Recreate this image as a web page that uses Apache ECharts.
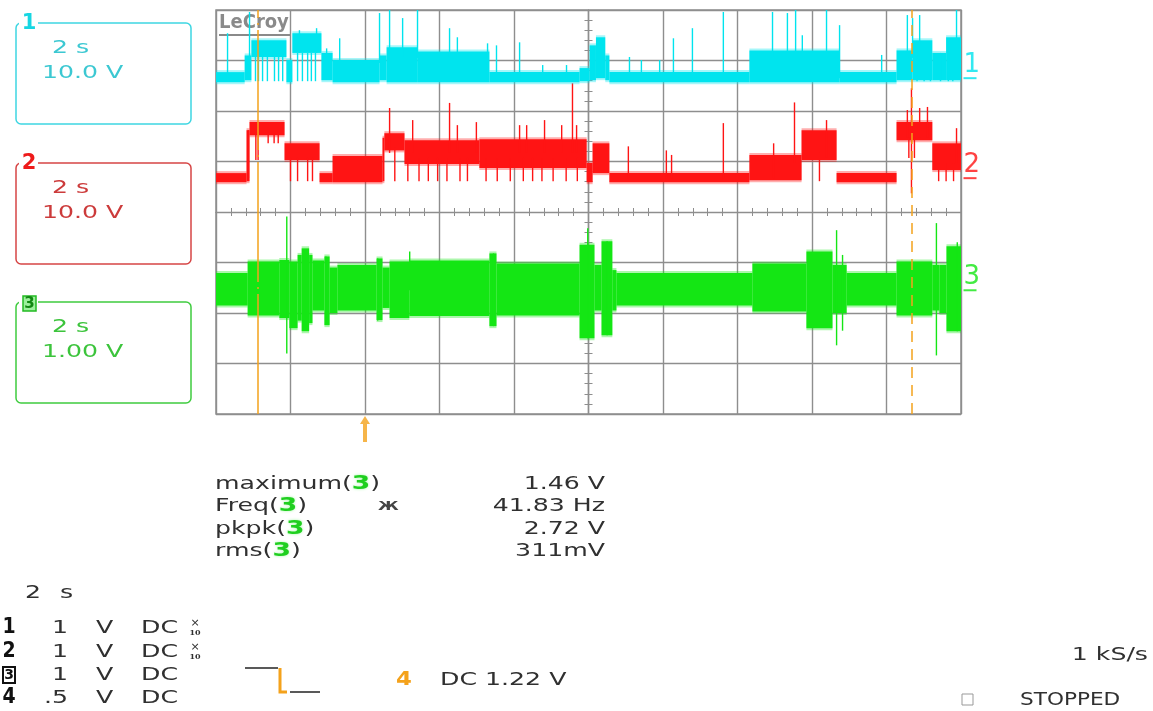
<!DOCTYPE html>
<html>
<head>
<meta charset="utf-8">
<script src="https://cdn.jsdelivr.net/npm/echarts@6/dist/echarts.min.js"></script>
<style>
html, body { margin: 0; background: #fff; }
#container { width: 1153px; height: 711px; }
</style>
</head>
<body>
<div id="container"></div>
<script>
// time base 2 s/div, 10 div wide; 8 div high
var timeMin = -10, timeMax = 10, timeDiv = 2;
var divMin = -4, divMax = 4;

var chanNames = ['1', '2', '3'];
var chanColors = ['#00e4ee', '#ff1414', '#14e614'];
var chanVoltsPerDiv = [10, 10, 1];
var chanGroundDiv = [2.65, 0.67, -1.55];

// bands: [t0 s, t1 s, vLow V, vHigh V]
var ch1Bands = [
    [-10.0, -9.23, -0.8, 1.2], [-9.23, -9.05, -0.4, 4.5], [-9.05, -8.11, 4.2, 7.5],
    [-8.11, -7.95, -0.8, 3.6], [-7.95, -7.17, 5.0, 8.9], [-7.17, -6.87, -0.4, 5.0],
    [-6.87, -5.61, -0.8, 3.6], [-5.61, -5.42, -0.4, 4.5], [-5.42, -4.60, -0.8, 6.1],
    [-4.60, -2.66, -0.8, 5.3], [-2.66, -0.24, -0.8, 1.2], [-0.24, 0.03, -0.6, 2.0],
    [0.03, 0.20, -0.4, 6.5], [0.20, 0.45, 0.0, 8.1], [0.45, 0.56, -0.4, 4.5],
    [0.56, 4.32, -0.8, 1.2], [4.32, 6.74, -0.8, 5.5], [6.74, 8.27, -0.8, 1.2],
    [8.27, 8.70, -0.4, 5.5], [8.70, 9.23, -0.4, 7.5], [9.23, 9.60, -0.4, 5.0],
    [9.60, 10.0, -0.4, 8.1]
];
// spikes and dips: [t s, vLow V, vHigh V]
var ch1Spikes = [
    [-9.69, 0, 8.9], [-9.10, 4, 13.1], [-7.76, 5, 9.5], [-7.30, 5, 9.9], [-7.03, 3, 5.9],
    [-6.68, 2, 7.9], [-5.61, 3, 12.9], [-5.34, 4, 13.5], [-4.99, 4, 11.9], [-4.59, 4, 13.5],
    [-3.73, 4, 9.9], [-3.52, 4, 8.1], [-2.71, 4, 6.9], [-2.47, 0, 6.5], [-1.85, 0, 7.1],
    [-1.23, 0, 2.6], [-0.59, 0, 2.6], [1.10, 0, 4.2], [1.42, 0, 3.6], [1.91, 0, 3.6],
    [2.28, 0, 7.9], [2.79, 0, 9.9], [3.62, 0, 13.1], [4.94, 4, 13.1], [5.34, 4, 12.9],
    [5.56, 4, 13.5], [5.74, 4, 8.5], [6.39, 4, 13.5], [6.74, 0, 10.5], [7.87, 0, 4.6],
    [8.56, 4, 12.5], [8.70, 4, 11.9], [8.89, 4, 12.5], [9.88, 4, 13.5],
    [-8.94, -0.6, 4.5], [-8.86, -0.6, 4.5], [-8.75, -0.6, 4.5], [-8.62, -0.6, 4.5],
    [-8.43, -0.6, 4.5], [-8.32, -0.6, 4.5], [-8.21, -0.6, 4.5], [-7.81, -0.6, 5.0],
    [-7.68, -0.6, 5.0], [-7.54, -0.6, 5.0], [-7.44, -0.6, 5.0], [-7.33, -0.6, 5.0],
    [8.82, -0.6, 5.0], [9.01, -0.6, 5.0], [9.18, -0.6, 5.0], [9.45, -0.6, 5.0],
    [9.66, -0.6, 5.0], [9.78, -0.6, 5.0]
];

var ch2Bands = [
    [-10.0, -9.18, -0.8, 1.0], [-9.18, -9.10, -0.6, 9.5], [-9.10, -8.16, 8.5, 11.1],
    [-8.16, -7.22, 3.6, 6.9], [-7.22, -6.87, -0.8, 1.0], [-6.87, -5.53, -0.8, 4.4],
    [-5.53, -5.48, -0.6, 8.0], [-5.48, -4.94, 5.5, 8.9], [-4.94, -2.93, 2.8, 7.5],
    [-2.93, -0.05, 2.0, 7.7], [-0.05, 0.11, -0.8, 3.0], [0.11, 0.56, 1.0, 6.9],
    [0.56, 4.32, -0.8, 1.0], [4.32, 5.72, -0.4, 4.6], [5.72, 6.66, 3.6, 9.5],
    [6.66, 8.27, -0.8, 1.0], [8.27, 9.23, 7.5, 11.1], [9.23, 10.0, 1.6, 6.9]
];
var ch2Spikes = [
    [-9.13, 0, 9.5], [-5.34, 5, 13.9], [-4.72, 5, 11.5], [-3.73, 5, 14.9], [-3.52, 5, 10.5],
    [-3.01, 5, 11.1], [-1.85, 5, 10.5], [-1.66, 5, 10.5], [-1.18, 5, 11.5], [-0.72, 5, 10.5],
    [-0.43, 5, 18.8], [-0.32, 5, 10.5], [1.07, 0, 6.3], [2.09, 0, 5.5], [2.23, 0, 4.6],
    [3.62, 0, 10.9], [4.97, 0, 6.9], [5.53, 3, 15.0], [6.39, 4, 11.5], [8.56, 8, 13.5],
    [8.67, -3, 17.8], [8.89, 8, 13.9], [9.10, 8, 14.1], [9.88, 3, 9.9],
    [-8.93, 3.6, 9.0], [-8.87, 3.6, 9.0], [-8.60, 6.9, 9.0], [-8.44, 6.9, 9.0], [-8.33, 6.9, 9.0],
    [-8.00, -0.6, 4.0], [-7.81, -0.6, 4.0], [-7.54, -0.6, 4.0], [-7.41, -0.6, 4.0],
    [-5.20, -0.6, 6.0], [-4.85, -0.6, 4.0], [-4.55, -0.6, 4.0], [-4.30, -0.6, 4.0],
    [-4.05, -0.6, 4.0], [-3.80, -0.6, 4.0], [-3.45, -0.6, 4.0], [-3.25, -0.6, 4.0],
    [-2.75, -0.6, 4.0], [-2.45, -0.6, 4.0], [-2.10, -0.6, 4.0], [-1.75, -0.6, 4.0],
    [-1.50, -0.6, 4.0], [-1.25, -0.6, 4.0], [-0.95, -0.6, 4.0], [-0.60, -0.6, 4.0],
    [-0.30, -0.6, 4.0], [6.20, -0.6, 5.0], [8.60, 4.0, 8.0], [8.75, 4.0, 8.0],
    [9.40, -0.6, 3.0], [9.60, -0.6, 3.0], [9.80, -0.6, 3.0]
];

var ch3Bands = [
    [-10.0, -9.15, -0.30, 0.34], [-9.15, -8.30, -0.50, 0.57], [-8.30, -8.03, -0.55, 0.60],
    [-8.03, -7.81, -0.75, 0.57], [-7.81, -7.70, -0.60, 0.70], [-7.70, -7.50, -0.81, 0.83],
    [-7.50, -7.41, -0.65, 0.70], [-7.41, -7.09, -0.40, 0.59], [-7.09, -6.95, -0.69, 0.67],
    [-6.95, -6.74, -0.45, 0.45], [-6.74, -5.69, -0.40, 0.50], [-5.69, -5.53, -0.59, 0.63],
    [-5.53, -5.34, -0.35, 0.45], [-5.34, -4.81, -0.55, 0.57], [-4.81, -2.66, -0.51, 0.59],
    [-2.66, -2.47, -0.71, 0.73], [-2.47, -0.24, -0.50, 0.53], [-0.24, 0.16, -0.95, 0.90],
    [0.16, 0.35, -0.40, 0.50], [0.35, 0.64, -0.89, 0.97], [0.64, 0.75, -0.40, 0.40],
    [0.75, 4.40, -0.30, 0.34], [4.40, 5.85, -0.42, 0.53], [5.85, 6.55, -0.75, 0.77],
    [6.55, 6.93, -0.45, 0.50], [6.93, 8.27, -0.30, 0.34], [8.27, 9.23, -0.50, 0.57],
    [9.23, 9.42, -0.40, 0.50], [9.42, 9.61, -0.45, 0.50], [9.61, 10.0, -0.81, 0.87]
];
var ch3Spikes = [
    [-8.10, -1.25, 1.46], [-7.05, -0.69, 0.67], [-5.66, -0.60, 0.63], [-4.80, 0, 0.77],
    [-2.55, -0.71, 0.73], [-0.02, -0.95, 1.23], [0.50, -0.89, 0.97], [6.66, -1.09, 1.19],
    [6.82, -0.80, 0.70], [9.34, -1.29, 1.33], [9.90, -0.81, 0.95]
];

var cursorTimes = [-8.89, 8.67];
var triggerTime = -6.0;

var measNames = ['maximum', 'Freq', 'pkpk', 'rms'];
var measValues = ['1.46 V', '41.83 Hz', '2.72 V', '311mV'];
var boxTimes = ['2 s', '2 s', '2 s'];
var boxVolts = ['10.0 V', '10.0 V', '1.00 V'];
var timebaseText = ['2', 's'];
var rowChans = ['1', '2', '3', '4'];
var rowScales = ['1', '1', '1', '.5'];
var rowUnits = ['V', 'V', 'V', 'V'];
var rowCouplings = ['DC', 'DC', 'DC', 'DC'];
var rowProbes = ['10', '10', '', ''];
var trigSource = '4';
var trigText = 'DC 1.22 V';
var sampleRate = '1 kS/s';
var acqState = 'STOPPED';

var ORANGE = '#f4a21c';
var GRID = '#8e8e8e';
var TEXT = '#303030';
var FONT = '"DejaVu Sans", Verdana, sans-serif';
var SX = 1.4;

function toDiv(ch, v) {
    return chanGroundDiv[ch] + v / chanVoltsPerDiv[ch];
}

function traceData(ch, bands, spikes) {
    var out = bands.map(function (b) {
        return [b[0], b[1], toDiv(ch, b[2]), toDiv(ch, b[3])];
    });
    spikes.forEach(function (s) {
        out.push([s[0], s[0], toDiv(ch, s[1]), toDiv(ch, s[2])]);
    });
    return out;
}

// bands get a soft edge so they look less like flat blocks
function traceRender(color) {
    return function (params, api) {
        var a = api.coord([api.value(0), api.value(3)]);
        var b = api.coord([api.value(1), api.value(2)]);
        var w = b[0] - a[0];
        var h = b[1] - a[1];
        var x = a[0];
        if (w < 1.4) {
            return {
                type: 'rect',
                shape: { x: x - 0.7, y: a[1], width: 1.4, height: h },
                style: { fill: color }
            };
        }
        return {
            type: 'group',
            children: [
                { type: 'rect', shape: { x: x, y: a[1] - 2, width: w, height: h + 4 }, style: { fill: color, opacity: 0.35 } },
                { type: 'rect', shape: { x: x, y: a[1], width: w, height: h }, style: { fill: color } }
            ]
        };
    };
}

function txt(x, y, s, extra) {
    var el = {
        type: 'text', x: x, y: y, scaleX: SX, z: 10,
        style: { text: s, font: '18px ' + FONT, fill: TEXT, align: 'left', verticalAlign: 'middle' }
    };
    if (extra) {
        Object.keys(extra).forEach(function (k) {
            if (k === 'style') Object.assign(el.style, extra.style);
            else el[k] = extra[k];
        });
    }
    return el;
}

var boxColors = ['#3ed6e2', '#d64545', '#3fcc3f'];
var boxTextColors = ['#3cc8d2', '#cc3b3b', '#3cc43c'];
var boxTops = [23, 163, 302];

var graphics = [];
// LeCroy logo
graphics.push({ type: 'text', x: 219, y: 23, z: 1,
    style: { text: 'LeCroy', font: 'bold 20px "DejaVu Sans Condensed", ' + FONT, fill: '#8a8a8a', verticalAlign: 'middle' } });
graphics.push({ type: 'rect', z: 1, shape: { x: 219, y: 34, width: 71, height: 2 }, style: { fill: '#8a8a8a' } });

// channel boxes
boxTops.forEach(function (top, i) {
    graphics.push({ type: 'rect', z: 5, shape: { x: 16, y: top, width: 175, height: 101, r: 5 },
        style: { fill: 'none', stroke: boxColors[i], lineWidth: 1.5 } });
    graphics.push({ type: 'rect', z: 6, shape: { x: 19, y: top - 9, width: 19, height: 20 }, style: { fill: '#fff' } });
    if (i === 2) {
        graphics.push({ type: 'rect', z: 7, shape: { x: 23, y: top - 6, width: 13, height: 15 },
            style: { fill: '#9cf09c', stroke: '#22bb22', lineWidth: 1.5 } });
        graphics.push({ type: 'text', x: 29.5, y: top + 2, z: 8,
            style: { text: chanNames[i], font: 'bold 15px ' + FONT, fill: '#118811', align: 'center', verticalAlign: 'middle' } });
    } else {
        graphics.push({ type: 'text', x: 29, y: top + 1, z: 8,
            style: { text: chanNames[i], font: 'bold 21px ' + FONT, fill: i === 0 ? '#16d6e2' : '#ee1a1a', align: 'center', verticalAlign: 'middle' } });
    }
    graphics.push(txt(52, top + 25, boxTimes[i], { style: { fill: boxTextColors[i] } }));
    graphics.push(txt(42, top + 50, boxVolts[i], { style: { fill: boxTextColors[i] } }));
});

// measurements
var measY = [484, 506, 529, 551];
measNames.forEach(function (name, i) {
    graphics.push(txt(215, measY[i], '{a|' + name + '(}{g|3}{a|)}', {
        style: {
            rich: {
                a: { font: '18px ' + FONT, fill: TEXT },
                g: { font: 'bold 19px ' + FONT, fill: '#1fcf1f', textShadowColor: '#a8f5a8', textShadowBlur: 3 }
            }
        }
    }));
    graphics.push(txt(605, measY[i], measValues[i], { style: { align: 'right' } }));
});
graphics.push(txt(378, 507, 'Ж', { scaleX: 1.3, style: { font: 'bold 13px ' + FONT, fill: '#444' } }));

// timebase and channel rows
graphics.push(txt(25, 593, timebaseText[0]));
graphics.push(txt(60, 593, timebaseText[1]));
var rowY = [628, 652, 675, 698];
rowChans.forEach(function (c, i) {
    var y = rowY[i];
    if (i === 2) {
        graphics.push({ type: 'rect', z: 10, shape: { x: 3, y: y - 8, width: 12, height: 16 },
            style: { fill: 'none', stroke: '#111', lineWidth: 2 } });
        graphics.push({ type: 'text', x: 9, y: y, z: 10,
            style: { text: c, font: 'bold 14px ' + FONT, fill: '#111', align: 'center', verticalAlign: 'middle' } });
    } else {
        graphics.push({ type: 'text', x: 9, y: y, z: 10, scaleX: 0.9,
            style: { text: c, font: 'bold 21px ' + FONT, fill: '#111', align: 'center', verticalAlign: 'middle' } });
    }
    graphics.push(txt(i === 3 ? 44 : 52, y, rowScales[i]));
    graphics.push(txt(96, y, rowUnits[i]));
    graphics.push(txt(141, y, rowCouplings[i]));
    if (rowProbes[i]) {
        graphics.push({ type: 'text', x: 195, y: y - 5, z: 10,
            style: { text: '×', font: '11px ' + FONT, fill: TEXT, align: 'center', verticalAlign: 'middle' } });
        graphics.push({ type: 'text', x: 195, y: y + 5, z: 10,
            style: { text: rowProbes[i], font: 'bold 8px "DejaVu Serif", serif', fill: TEXT, align: 'center', verticalAlign: 'middle' } });
    }
});

// trigger edge symbol and level
graphics.push({ type: 'polyline', z: 10, shape: { points: [[245, 668], [278, 668]] }, style: { stroke: '#222', lineWidth: 1.5 } });
graphics.push({ type: 'polyline', z: 10, shape: { points: [[280, 668], [280, 692], [287, 692]] }, style: { stroke: ORANGE, lineWidth: 3, fill: 'none' } });
graphics.push({ type: 'polyline', z: 10, shape: { points: [[290, 692], [320, 692]] }, style: { stroke: '#222', lineWidth: 1.5 } });
graphics.push(txt(396, 680, trigSource, { scaleX: 1.2, style: { font: 'bold 19px ' + FONT, fill: ORANGE } }));
graphics.push(txt(440, 680, trigText));
graphics.push(txt(1148, 655, sampleRate, { style: { align: 'right' } }));
graphics.push({ type: 'rect', z: 10, shape: { x: 962, y: 694, width: 11, height: 11 }, style: { fill: 'none', stroke: '#999', lineWidth: 1 } });
graphics.push(txt(1020, 700, acqState, { scaleX: 1.2 }));

var traceSeries = [
    { ch: 2, bands: ch3Bands, spikes: ch3Spikes },
    { ch: 1, bands: ch2Bands, spikes: ch2Spikes },
    { ch: 0, bands: ch1Bands, spikes: ch1Spikes }
].map(function (t) {
    return {
        type: 'custom',
        name: 'C' + chanNames[t.ch],
        renderItem: traceRender(chanColors[t.ch]),
        data: traceData(t.ch, t.bands, t.spikes),
        clip: true,
        silent: true,
        z: 3
    };
});

var markerSeries = {
    type: 'scatter',
    silent: true,
    clip: false,
    z: 5,
    data: chanNames.map(function (n, i) {
        return {
            value: [timeMax, chanGroundDiv[i]],
            name: n,
            symbol: 'rect',
            symbolSize: [13, 2],
            symbolOffset: [9, 0],
            itemStyle: { color: chanColors[i] },
            label: {
                show: true, position: [0, 0], align: 'left', verticalAlign: 'bottom',
                formatter: n, color: chanColors[i], fontSize: 26, fontFamily: 'DejaVu Sans', lineHeight: 24
            }
        };
    }).concat([{
        value: [triggerTime, divMin],
        symbol: 'path://M5,0 L10,8 L7,8 L7,26 L3,26 L3,8 L0,8 Z',
        symbolSize: [10, 26],
        symbolOffset: [0, 15],
        itemStyle: { color: ORANGE },
        label: { show: false }
    }]),
    markLine: {
        silent: true,
        symbol: ['none', 'none'],
        label: { show: false },
        lineStyle: { color: ORANGE, width: 1.5 },
        data: [
            { xAxis: cursorTimes[0], lineStyle: { type: [120, 5, 2, 5] } },
            { xAxis: cursorTimes[1], lineStyle: { type: [11, 7] } }
        ]
    }
};

function axisCommon(inside, main) {
    return {
        type: 'value',
        axisLine: { show: true, onZero: true, lineStyle: { color: GRID, width: 1.2 } },
        axisTick: { show: true, inside: inside, length: 4, lineStyle: { color: GRID } },
        minorTick: { show: true, splitNumber: 5, length: 4, lineStyle: { color: GRID } },
        axisLabel: { show: false },
        splitLine: { show: main, lineStyle: { color: GRID, width: 1.4 } },
        minorSplitLine: { show: false }
    };
}

var xMain = Object.assign(axisCommon(false, true), { min: timeMin, max: timeMax, interval: timeDiv, position: 'bottom' });
var xTwin = Object.assign(axisCommon(true, false), { min: timeMin, max: timeMax, interval: timeDiv, position: 'bottom' });
var yMain = Object.assign(axisCommon(false, true), { min: divMin, max: divMax, interval: 1, position: 'left' });
var yTwin = Object.assign(axisCommon(true, false), { min: divMin, max: divMax, interval: 1, position: 'left' });

var chart = echarts.init(document.getElementById('container'), null, { renderer: 'canvas' });
chart.setOption({
    animation: false,
    backgroundColor: '#fff',
    grid: { left: 216, top: 10, width: 745, height: 404, show: true, borderColor: GRID, borderWidth: 1.5, backgroundColor: 'transparent' },
    xAxis: [xMain, xTwin],
    yAxis: [yMain, yTwin],
    graphic: graphics,
    series: traceSeries.concat([markerSeries])
});
</script>
</body>
</html>
